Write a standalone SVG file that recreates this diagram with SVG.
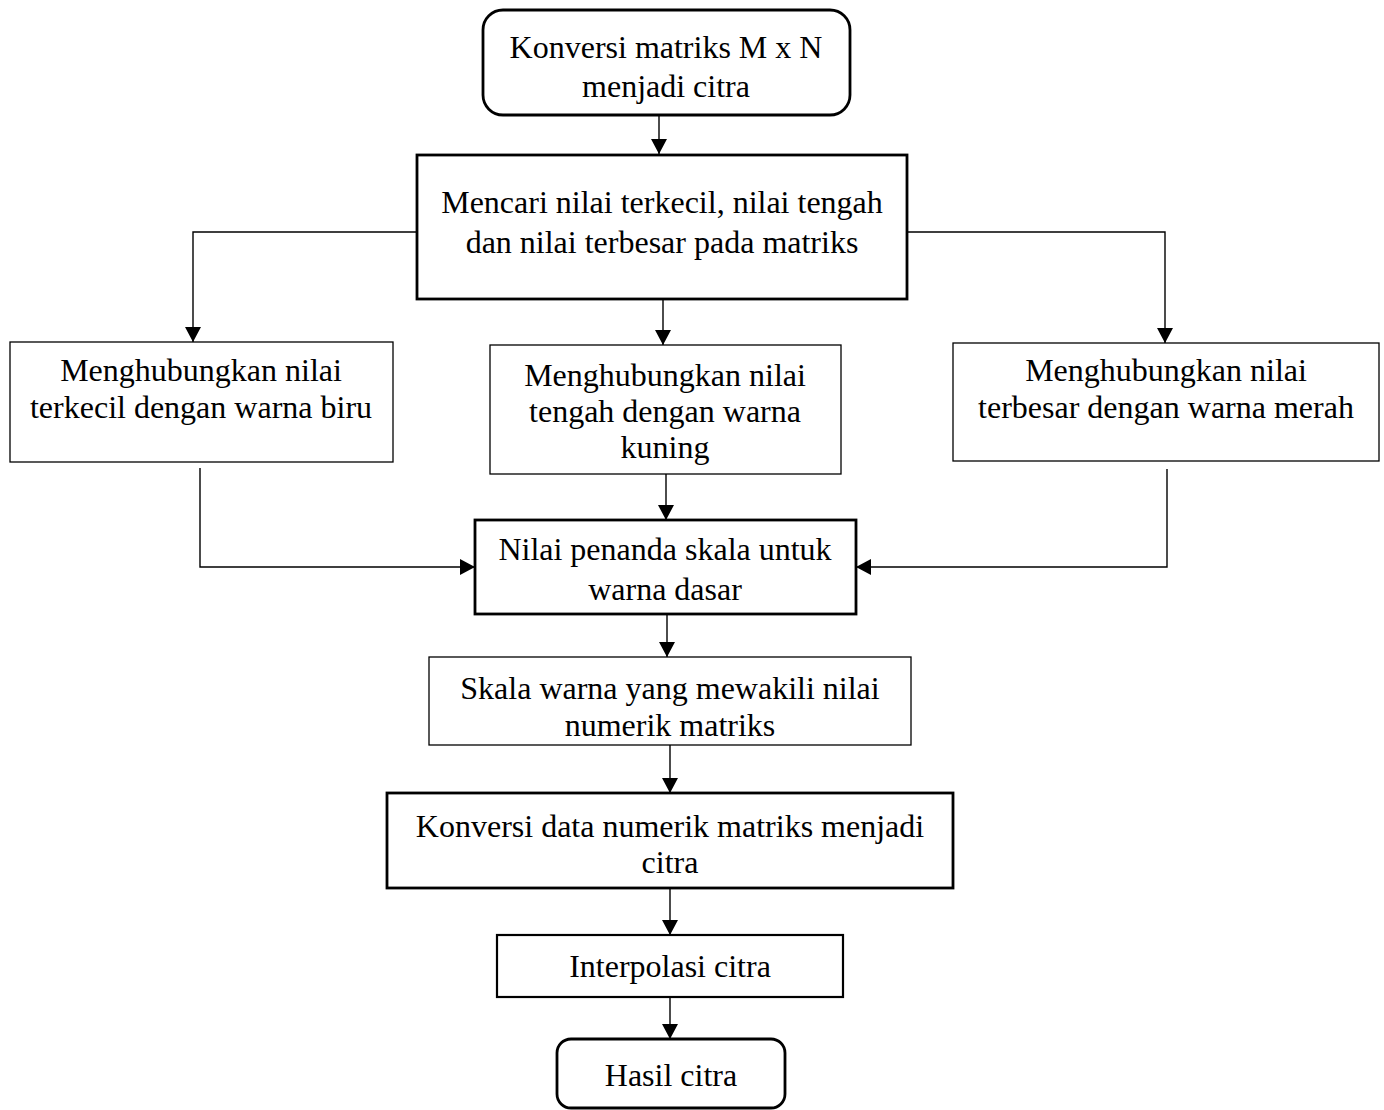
<svg xmlns="http://www.w3.org/2000/svg" width="1384" height="1110" viewBox="0 0 1384 1110">
<defs>
<marker id="arr" markerUnits="userSpaceOnUse" markerWidth="16" markerHeight="17" refX="15" refY="8.5" orient="auto">
<path d="M0,0.5 L15,8.5 L0,16.5 z" fill="#000"/>
</marker>
<style>
text{font-family:"Liberation Serif","Times New Roman",serif;font-size:32px;fill:#000;text-anchor:middle}
.thick{fill:#fff;stroke:#000;stroke-width:2.8}
.thin{fill:#fff;stroke:#000;stroke-width:1.3}
.mid{fill:#fff;stroke:#000;stroke-width:2.2}
.conn path{fill:none;stroke:#000;stroke-width:1.4;marker-end:url(#arr)}
</style>
</defs>
<rect width="1384" height="1110" fill="#fff"/>
<g class="conn" id="connectors">
<path d="M659,115 V154"/>
<path d="M417,232 H193 V342"/>
<path d="M663,299 V345"/>
<path d="M907,232 H1165 V343"/>
<path d="M200,468 V567 H475"/>
<path d="M666,474 V520"/>
<path d="M1167,469 V567 H856"/>
<path d="M667,614 V657"/>
<path d="M670,745 V793"/>
<path d="M670,888 V935"/>
<path d="M670,997 V1039"/>
</g>
<g id="n1"><rect class="thick" x="483" y="10" width="367" height="105" rx="20"/>
<text x="666" y="58">Konversi matriks M x N</text><text x="666" y="97">menjadi citra</text></g>
<g id="n2"><rect class="thick" x="417" y="155" width="490" height="144"/>
<text x="662" y="213">Mencari nilai terkecil, nilai tengah</text><text x="662" y="253">dan nilai terbesar pada matriks</text></g>
<g id="n3"><rect class="thin" x="10" y="342" width="383" height="120"/>
<text x="201" y="381">Menghubungkan nilai</text><text x="201" y="418">terkecil dengan warna biru</text></g>
<g id="n4"><rect class="thin" x="490" y="345" width="351" height="129"/>
<text x="665" y="386">Menghubungkan nilai</text><text x="665" y="422">tengah dengan warna</text><text x="665" y="458">kuning</text></g>
<g id="n5"><rect class="thin" x="953" y="343" width="426" height="118"/>
<text x="1166" y="381">Menghubungkan nilai</text><text x="1166" y="418">terbesar dengan warna merah</text></g>
<g id="n6"><rect class="thick" x="475" y="520" width="381" height="94"/>
<text x="665" y="560">Nilai penanda skala untuk</text><text x="665" y="600">warna dasar</text></g>
<g id="n7"><rect class="thin" x="429" y="657" width="482" height="88"/>
<text x="670" y="699">Skala warna yang mewakili nilai</text><text x="670" y="736">numerik matriks</text></g>
<g id="n8"><rect class="thick" x="387" y="793" width="566" height="95"/>
<text x="670" y="837">Konversi data numerik matriks menjadi</text><text x="670" y="873">citra</text></g>
<g id="n9"><rect class="mid" x="497" y="935" width="346" height="62"/>
<text x="670" y="977">Interpolasi citra</text></g>
<g id="n10"><rect class="thick" x="557" y="1039" width="228" height="69" rx="14"/>
<text x="671" y="1086">Hasil citra</text></g>
</svg>
